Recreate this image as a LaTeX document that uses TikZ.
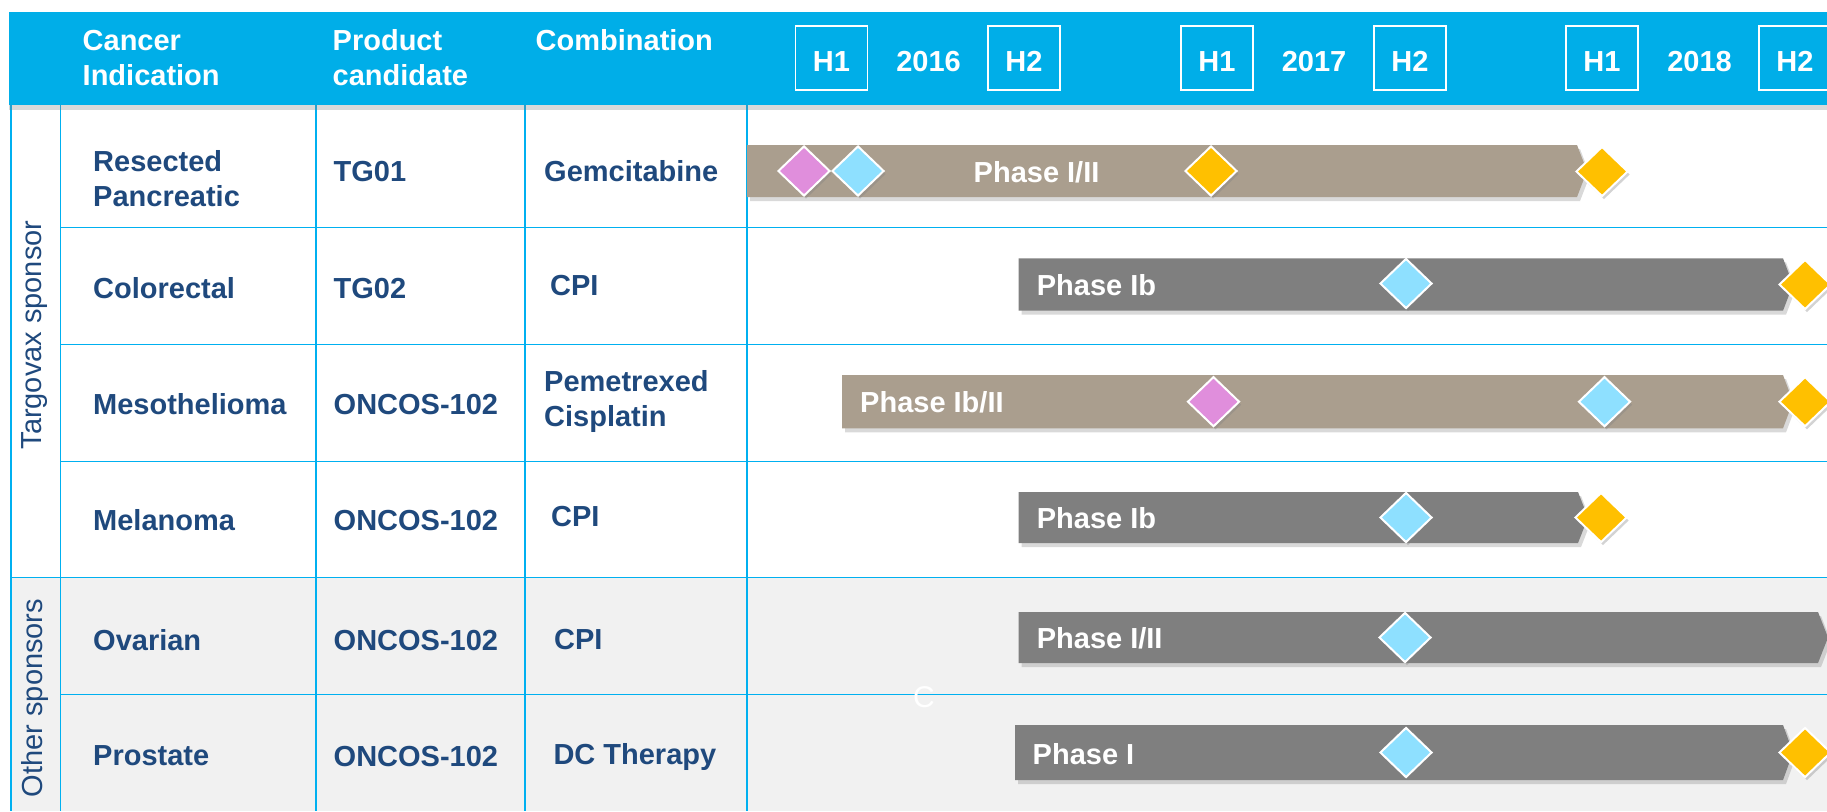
\documentclass[tikz,border=0pt]{standalone}
\usepackage{fontspec}
\setmainfont{Liberation Sans}
\usetikzlibrary{shapes.geometric,shadows}
\definecolor{hdrblue}{RGB}{0,174,232}
\definecolor{lineblue}{RGB}{0,176,240}
\definecolor{txtblue}{RGB}{31,73,125}
\definecolor{tanc}{RGB}{170,158,142}
\definecolor{barg}{RGB}{127,127,127}
\definecolor{pinkc}{RGB}{224,142,220}
\definecolor{cyanc}{RGB}{142,224,255}
\definecolor{goldc}{RGB}{255,192,0}
\definecolor{greybg}{RGB}{241,241,241}
\begin{document}
\begin{tikzpicture}[x=1pt,y=-1pt,
  gridline/.style={draw=lineblue,line width=1.3pt},
  bigfont/.style={font=\fontsize{29}{33}\selectfont\bfseries},
  hdr/.style={bigfont,text=white,inner sep=0,anchor=base west},
  hlab/.style={bigfont,text=white,inner sep=0,anchor=base},
  hbox/.style={draw=white,line width=1.8pt,minimum width=72pt,minimum height=64pt,inner sep=0},
  cell/.style={bigfont,text=txtblue,inner sep=0,anchor=base west},
  phase/.style={bigfont,text=white,inner sep=0,anchor=base west},
  side/.style={font=\fontsize{29}{33}\selectfont,text=txtblue,rotate=90,inner sep=0},
  barshadow/.style={drop shadow={shadow xshift=3pt,shadow yshift=-4pt,opacity=0.3}},
  ms/.style={diamond,draw=white,line width=2pt,minimum width=52pt,minimum height=50pt,inner sep=0,
    drop shadow={shadow xshift=2pt,shadow yshift=-3pt,opacity=0.35}}
]
\useasboundingbox (0,0) rectangle (1827,811);
\clip (0,0) rectangle (1827,811);
% background of other sponsors
\fill[greybg] (11,577.5) rectangle (1827,811);
% grid
\foreach \x in {11,60.3,316,525,747} \draw[gridline] (\x,105) -- (\x,811);
\foreach \y in {227.3,344.5,461.3,694.5} \draw[gridline] (60.3,\y) -- (1827,\y);
\draw[gridline] (11,577.5) -- (1827,577.5);
% header band
\path[fill=hdrblue,drop shadow={shadow xshift=0pt,shadow yshift=-5pt,opacity=0.3}] (9,12) rectangle (1827,105);
\node[hdr] (hcan1) at (82.5,50.7) {Cancer};
\node[hdr] (hcan2) at (82.5,85) {Indication};
\node[hdr] (hprod1) at (332.5,50.7) {Product};
\node[hdr] (hprod2) at (332.5,85) {candidate};
\node[hdr] (hcomb) at (535.5,50) {Combination};
\foreach \cx/\nm in {831.5/a,1024/b,1217/c,1410/d,1602/e,1795/f} \node[hbox] (box\nm) at (\cx,58) {};
\node[hlab] (lba) at (831.5,71.7) {H1};
\node[hlab] (lbb) at (1024,71.7) {H2};
\node[hlab] (lbc) at (1217,71.7) {H1};
\node[hlab] (lbd) at (1410,71.7) {H2};
\node[hlab] (lbe) at (1602,71.7) {H1};
\node[hlab] (lbf) at (1795,71.7) {H2};
\node[hlab] (y16) at (928.5,71.7) {2016};
\node[hlab] (y17) at (1314,71.7) {2017};
\node[hlab] (y18) at (1699.5,71.7) {2018};
% side labels
\node[side] (tsp) at (35,335) {Targovax sponsor};
\node[side] (osp) at (35,698) {Other sponsors};
% table cells
\node[cell] (r1a) at (93,171) {Resected};
\node[cell] (r1b) at (93,206) {Pancreatic};
\node[cell] (r1p) at (333.5,181.7) {TG01};
\node[cell] (r1c) at (544,181.7) {Gemcitabine};
\node[cell] (r2a) at (93,298.3) {Colorectal};
\node[cell] (r2p) at (333.5,298.3) {TG02};
\node[cell] (r2c) at (550,295) {CPI};
\node[cell] (r3a) at (93,414.7) {Mesothelioma};
\node[cell] (r3p) at (333.5,414.7) {ONCOS-102};
\node[cell] (r3c) at (544,391.4) {Pemetrexed};
\node[cell] (r3d) at (544,426.4) {Cisplatin};
\node[cell] (r4a) at (93,530) {Melanoma};
\node[cell] (r4p) at (333.5,530) {ONCOS-102};
\node[cell] (r4c) at (551,526.4) {CPI};
\node[cell] (r5a) at (93,650) {Ovarian};
\node[cell] (r5p) at (333.5,650) {ONCOS-102};
\node[cell] (r5c) at (554,649.3) {CPI};
\node[cell] (r6a) at (93,765.5) {Prostate};
\node[cell] (r6p) at (333.5,766) {ONCOS-102};
\node[cell] (r6c) at (553.3,764) {DC Therapy};
% bars
\path[fill=tanc,barshadow] (747,145) -- (1577,145) -- (1587,171) -- (1577,197) -- (747,197) -- cycle;
\path[fill=barg,barshadow] (1018.6,258.3) -- (1783,258.3) -- (1793,284.5) -- (1783,310.7) -- (1018.6,310.7) -- cycle;
\path[fill=tanc,barshadow] (842,375) -- (1783,375) -- (1793,401.7) -- (1783,428.3) -- (842,428.3) -- cycle;
\path[fill=barg,barshadow] (1018.6,492) -- (1578,492) -- (1588,517.5) -- (1578,543) -- (1018.6,543) -- cycle;
\path[fill=barg,barshadow] (1018.6,612) -- (1818,612) -- (1828,637.5) -- (1818,663) -- (1018.6,663) -- cycle;
\path[fill=barg,barshadow] (1015,725) -- (1783,725) -- (1793,752.5) -- (1783,780) -- (1015,780) -- cycle;
% phase labels
\node[phase] (p1) at (973.5,182) {Phase I/II};
\node[phase] (p2) at (1036.6,295) {Phase Ib};
\node[phase] (p3) at (860,412) {Phase Ib/II};
\node[phase] (p4) at (1036.6,528) {Phase Ib};
\node[phase] (p5) at (1036.6,648) {Phase I/II};
\node[phase] (p6) at (1032.5,764) {Phase I};
% milestones
\node[ms,fill=pinkc] (m1a) at (804,171) {};
\node[ms,fill=cyanc] (m1b) at (858,171) {};
\node[ms,fill=goldc] (m1c) at (1211,171) {};
\node[ms,fill=goldc] (m1d) at (1602,171.5) {};
\node[ms,fill=cyanc] (m2a) at (1406,283.5) {};
\node[ms,fill=goldc] (m2b) at (1805,284.5) {};
\node[ms,fill=pinkc] (m3a) at (1213.5,401.7) {};
\node[ms,fill=cyanc] (m3b) at (1604.5,401.7) {};
\node[ms,fill=goldc] (m3c) at (1805,401.7) {};
\node[ms,fill=cyanc] (m4a) at (1406,517.5) {};
\node[ms,fill=goldc] (m4b) at (1601,517.5) {};
\node[ms,fill=cyanc] (m5a) at (1405,637.5) {};
\node[ms,fill=cyanc] (m6a) at (1406,752.5) {};
\node[ms,fill=goldc] (m6b) at (1805,752.5) {};
% stray letter
\node[font=\fontsize{30}{30}\selectfont,text=white,inner sep=0,anchor=base] (stray) at (924,707) {C};
\end{tikzpicture}
\end{document}
